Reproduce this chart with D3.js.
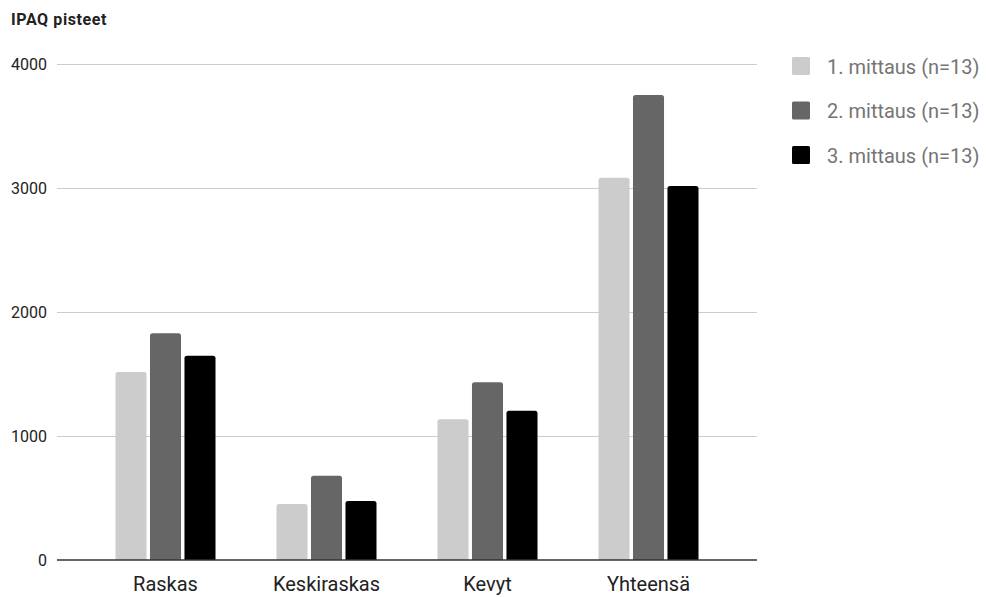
<!DOCTYPE html>
<html>
<head>
<meta charset="utf-8">
<script src="https://cdn.jsdelivr.net/npm/d3@7"></script>
<style>
  html, body { margin: 0; padding: 0; background: #fff; }
  svg { display: block; font-family: Roboto, "Noto Sans", sans-serif; }
</style>
</head>
<body>
<svg id="chart" width="986" height="597"></svg>
<script>
// IPAQ scores per intensity category, three measurement rounds
const categories = ["Raskas", "Keskiraskas", "Kevyt", "Yhteensä"];
const seriesNames = ["1. mittaus (n=13)", "2. mittaus (n=13)", "3. mittaus (n=13)"];
const mittaus1 = [1516, 452, 1135, 3083];
const mittaus2 = [1828, 680, 1433, 3750];
const mittaus3 = [1648, 476, 1204, 3016];
const yTicks = [0, 1000, 2000, 3000, 4000];
const colors = ["#cccccc", "#666666", "#000000"];

const seriesValues = [mittaus1, mittaus2, mittaus3];

const svg = d3.select("#chart");
const plot = { left: 57, right: 757, top: 64, bottom: 560 };

const y = d3.scaleLinear().domain([0, 4000]).range([plot.bottom, plot.top]);
const x0 = d3.scaleBand().domain(categories).range([85, 729]).padding(0);
const groupWidth = 100;
const x1 = d3.scaleBand().domain(d3.range(3)).range([0, groupWidth]).paddingInner(0.1);

// title
svg.append("text")
  .attr("x", 11).attr("y", 25)
  .attr("font-size", 16).attr("font-weight", "bold").attr("fill", "#222")
  .attr("letter-spacing", 0.6)
  .text("IPAQ pisteet");

// gridlines + y labels
const yAxis = d3.axisLeft(y).tickValues(yTicks).tickFormat(d3.format("d"))
  .tickSize(-(plot.right - plot.left)).tickPadding(10);
const gy = svg.append("g").attr("transform", `translate(${plot.left},0)`).call(yAxis);
gy.select(".domain").remove();
gy.selectAll(".tick line").attr("stroke", "#cccccc").attr("stroke-width", 1);
gy.selectAll(".tick text").attr("font-size", 16).attr("fill", "#222").attr("font-family", "Roboto, sans-serif");
gy.selectAll(".tick").filter(d => d === 0).select("line").remove();

// bars with slightly rounded tops
function barPath(xp, w, yTop, yBot, r) {
  r = Math.min(r, (yBot - yTop));
  return `M${xp},${yBot}V${yTop + r}Q${xp},${yTop} ${xp + r},${yTop}H${xp + w - r}Q${xp + w},${yTop} ${xp + w},${yTop + r}V${yBot}Z`;
}

const groups = svg.append("g").selectAll("g")
  .data(categories)
  .join("g")
  .attr("transform", d => `translate(${x0(d) + (x0.bandwidth() - groupWidth) / 2},0)`);

groups.selectAll("path")
  .data((d, i) => seriesValues.map((s, k) => ({ k, v: s[i] })))
  .join("path")
  .attr("fill", d => colors[d.k])
  .attr("d", d => barPath(x1(d.k), x1.bandwidth(), y(d.v), y(0), 2.5));

// baseline
svg.append("line")
  .attr("x1", plot.left).attr("x2", plot.right)
  .attr("y1", y(0)).attr("y2", y(0))
  .attr("stroke", "#333").attr("stroke-width", 1.5);

// x labels
const xAxis = d3.axisBottom(x0).tickSize(0).tickPadding(17);
const gx = svg.append("g").attr("transform", `translate(0,${y(0)})`).call(xAxis);
gx.select(".domain").remove();
gx.selectAll(".tick text").attr("font-size", 20).attr("fill", "#222").attr("font-family", "Roboto, sans-serif");

// legend
const legend = svg.append("g").selectAll("g")
  .data(seriesNames)
  .join("g")
  .attr("transform", (d, i) => `translate(792,${57 + i * 44.5})`);
legend.append("rect")
  .attr("width", 18).attr("height", 18).attr("rx", 1.5)
  .attr("fill", (d, i) => colors[i]);
legend.append("text")
  .attr("x", 35).attr("y", 16.5)
  .attr("font-size", 20).attr("fill", "#757575")
  .text(d => d);
</script>
</body>
</html>
